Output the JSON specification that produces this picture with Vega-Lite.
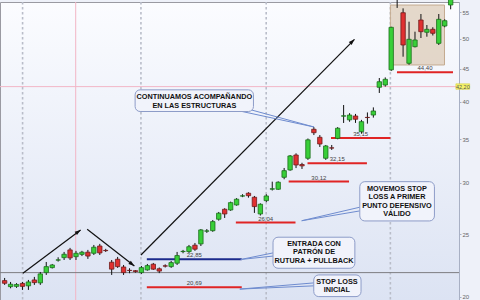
{
"$schema": "https://vega.github.io/schema/vega-lite/v6.json",
"width": 459, "height": 298,
"autosize": {"type": "none"},
"padding": {"left": 0, "top": 2, "right": 21, "bottom": 0},
"background": "#eef1f9",
"view": {"stroke": "#9a9aa2", "strokeWidth": 1, "fill": {"gradient": "linear", "x1": 0, "y1": 0, "x2": 0, "y2": 1, "stops": [{"offset": 0, "color": "#fbfcff"}, {"offset": 1, "color": "#dce3f3"}]}},
"config": {
  "axis": {"labelFont": "Liberation Sans", "labelFontSize": 6, "labelColor": "#666", "tickSize": 2, "tickColor": "#a8b0c4", "domainColor": "#a8b0c4", "labelPadding": 1, "grid": false},
  "text": {"font": "Liberation Sans"}
},
"resolve": {"axis": {"y": "independent", "x": "independent"}},
"datasets": {
  "candles": [
    {"i":1,"o":21.19,"h":21.39,"l":20.87,"c":20.99},
    {"i":2,"o":20.74,"h":21.09,"l":20.62,"c":20.92},
    {"i":3,"o":20.76,"h":21.00,"l":20.65,"c":20.90},
    {"i":4,"o":20.98,"h":21.09,"l":20.50,"c":20.76},
    {"i":5,"o":20.80,"h":21.24,"l":20.50,"c":21.09},
    {"i":6,"o":21.24,"h":21.47,"l":20.87,"c":21.04},
    {"i":7,"o":21.02,"h":21.85,"l":20.87,"c":21.70},
    {"i":8,"o":21.80,"h":22.64,"l":21.62,"c":22.27},
    {"i":9,"o":22.19,"h":22.48,"l":22.12,"c":22.40},
    {"i":10,"o":22.79,"h":23.02,"l":22.67,"c":22.81},
    {"i":11,"o":22.99,"h":23.46,"l":22.80,"c":23.27},
    {"i":12,"o":23.63,"h":23.80,"l":22.80,"c":22.97},
    {"i":13,"o":23.07,"h":23.55,"l":22.80,"c":23.35},
    {"i":14,"o":23.26,"h":23.55,"l":23.12,"c":23.44},
    {"i":15,"o":23.44,"h":23.63,"l":22.89,"c":23.12},
    {"i":16,"o":23.35,"h":24.05,"l":23.21,"c":23.86},
    {"i":17,"o":23.96,"h":24.14,"l":23.21,"c":23.38},
    {"i":18,"o":23.59,"h":23.72,"l":23.46,"c":23.57},
    {"i":19,"o":22.62,"h":22.80,"l":21.62,"c":22.07},
    {"i":20,"o":22.86,"h":23.05,"l":22.17,"c":22.27},
    {"i":21,"o":22.24,"h":22.40,"l":21.62,"c":21.80},
    {"i":22,"o":21.98,"h":22.14,"l":21.75,"c":21.96},
    {"i":23,"o":21.95,"h":22.00,"l":21.80,"c":21.88},
    {"i":24,"o":21.80,"h":22.32,"l":21.70,"c":22.19},
    {"i":25,"o":22.01,"h":22.48,"l":21.95,"c":22.35},
    {"i":26,"o":22.46,"h":22.56,"l":22.01,"c":22.07},
    {"i":27,"o":22.10,"h":22.20,"l":21.76,"c":21.92},
    {"i":28,"o":22.33,"h":22.45,"l":22.20,"c":22.31},
    {"i":29,"o":22.27,"h":22.72,"l":22.17,"c":22.59},
    {"i":30,"o":22.54,"h":23.46,"l":22.40,"c":23.16},
    {"i":31,"o":23.49,"h":23.63,"l":23.35,"c":23.51},
    {"i":32,"o":23.49,"h":24.05,"l":23.38,"c":23.90},
    {"i":33,"o":24.03,"h":24.22,"l":23.55,"c":23.69},
    {"i":34,"o":24.14,"h":25.45,"l":23.96,"c":25.37},
    {"i":35,"o":25.26,"h":25.45,"l":25.10,"c":25.28},
    {"i":36,"o":25.30,"h":26.28,"l":25.20,"c":26.13},
    {"i":37,"o":26.35,"h":27.04,"l":26.22,"c":26.92},
    {"i":38,"o":27.30,"h":27.40,"l":26.47,"c":26.85},
    {"i":39,"o":27.23,"h":28.05,"l":27.15,"c":27.95},
    {"i":40,"o":27.72,"h":28.40,"l":27.65,"c":28.29},
    {"i":41,"o":28.61,"h":28.80,"l":28.50,"c":28.63},
    {"i":42,"o":28.90,"h":29.00,"l":28.45,"c":28.65},
    {"i":43,"o":28.49,"h":28.62,"l":26.95,"c":27.56},
    {"i":44,"o":26.85,"h":27.88,"l":26.70,"c":27.79},
    {"i":45,"o":28.15,"h":28.80,"l":28.00,"c":28.62},
    {"i":46,"o":29.32,"h":30.11,"l":29.18,"c":29.36},
    {"i":47,"o":29.31,"h":30.15,"l":29.25,"c":30.05},
    {"i":48,"o":30.58,"h":31.61,"l":30.37,"c":31.31},
    {"i":49,"o":31.39,"h":33.10,"l":31.30,"c":32.99},
    {"i":50,"o":33.10,"h":33.30,"l":31.60,"c":31.95},
    {"i":51,"o":32.00,"h":32.20,"l":31.50,"c":31.85},
    {"i":52,"o":32.72,"h":35.10,"l":32.53,"c":34.93},
    {"i":53,"o":36.27,"h":36.53,"l":35.53,"c":35.83},
    {"i":54,"o":35.25,"h":35.53,"l":34.06,"c":34.42},
    {"i":55,"o":32.72,"h":34.30,"l":32.53,"c":34.18},
    {"i":56,"o":33.95,"h":34.30,"l":33.70,"c":33.93},
    {"i":57,"o":35.12,"h":36.55,"l":35.00,"c":36.40},
    {"i":58,"o":38.00,"h":39.53,"l":37.09,"c":38.04},
    {"i":59,"o":37.50,"h":38.40,"l":37.25,"c":38.15},
    {"i":60,"o":38.02,"h":38.30,"l":37.10,"c":37.58},
    {"i":61,"o":35.96,"h":37.50,"l":35.70,"c":37.26},
    {"i":62,"o":37.83,"h":38.50,"l":37.00,"c":37.81},
    {"i":63,"o":38.15,"h":39.20,"l":37.80,"c":38.70},
    {"i":64,"o":42.10,"h":43.51,"l":41.26,"c":42.94},
    {"i":65,"o":42.44,"h":43.60,"l":42.20,"c":43.31},
    {"i":66,"o":44.79,"h":52.20,"l":44.60,"c":52.09},
    {"i":67,"o":58.50,"h":59.00,"l":55.80,"c":58.00},
    {"i":68,"o":54.86,"h":55.72,"l":46.93,"c":48.92},
    {"i":69,"o":45.84,"h":53.14,"l":45.60,"c":49.92},
    {"i":70,"o":48.63,"h":51.29,"l":48.50,"c":49.80},
    {"i":71,"o":53.46,"h":54.61,"l":50.15,"c":51.29},
    {"i":72,"o":51.18,"h":52.52,"l":50.38,"c":51.72},
    {"i":73,"o":51.72,"h":52.10,"l":50.60,"c":51.00},
    {"i":74,"o":49.21,"h":54.61,"l":48.92,"c":53.59},
    {"i":75,"o":52.33,"h":53.60,"l":52.10,"c":53.33},
    {"i":76,"o":56.39,"h":58.00,"l":55.53,"c":57.80}
  ],
  "levels": [
    {"v":20.69,"x1":24.91,"x2":40.87,"lbl":"20,69","k":"stop"},
    {"v":22.85,"x1":24.91,"x2":40.87,"lbl":"22,85","k":"entry"},
    {"v":26.04,"x1":39.88,"x2":49.91,"lbl":"26,04","k":"stop"},
    {"v":30.12,"x1":48.76,"x2":58.91,"lbl":"30,12","k":"stop"},
    {"v":32.15,"x1":51.93,"x2":61.92,"lbl":"32,15","k":"stop"},
    {"v":35.15,"x1":55.88,"x2":65.86,"lbl":"35,15","k":"stop"},
    {"v":44.40,"x1":66.97,"x2":76.39,"lbl":"44,40","k":"stop"}
  ],
  "arrows": [
    {"a":1,"x1":4.07,"y1":21.75,"x2":13.78,"y2":25.37},
    {"a":2,"x1":14.88,"y1":25.43,"x2":22.82,"y2":22.32},
    {"a":3,"x1":23.92,"y1":23.21,"x2":59.83,"y2":49.92}
  ],
  "pointers": [
    {"x1":40.54,"y1":38.70,"x2":53.03,"y2":36.56},
    {"x1":42.51,"y1":38.84,"x2":53.03,"y2":36.56},
    {"x1":50.95,"y1":26.21,"x2":60.72,"y2":27.50},
    {"x1":50.95,"y1":26.21,"x2":60.72,"y2":27.14},
    {"x1":40.70,"y1":22.84,"x2":46.13,"y2":23.38},
    {"x1":40.70,"y1":22.84,"x2":46.13,"y2":23.12},
    {"x1":40.54,"y1":20.56,"x2":53.03,"y2":21.02},
    {"x1":40.54,"y1":20.56,"x2":53.03,"y2":20.80}
  ],
  "boxes": [
    {"x1":22.94,"x2":42.84,"y1":41.72,"y2":38.63},
    {"x1":60.72,"x2":73.27,"y1":30.11,"y2":26.19},
    {"x1":46.13,"x2":59.89,"y1":24.72,"y2":22.14},
    {"x1":52.98,"x2":60.93,"y1":21.62,"y2":20.02}
  ],
  "notes": [
    {"t":"CONTINUAMOS ACOMPAÑANDO","x":32.9,"y":40.67},
    {"t":"EN LAS ESTRUCTURAS","x":32.9,"y":39.40},
    {"t":"MOVEMOS STOP","x":66.97,"y":29.34},
    {"t":"LOSS A PRIMER","x":66.97,"y":28.49},
    {"t":"PUNTO DEFENSIVO","x":66.97,"y":27.62},
    {"t":"VÁLIDO","x":66.97,"y":26.82},
    {"t":"ENTRADA CON","x":53.03,"y":24.16},
    {"t":"PATRÓN DE","x":53.03,"y":23.44},
    {"t":"RUTURA + PULLBACK","x":53.03,"y":22.72},
    {"t":"STOP LOSS","x":56.87,"y":21.11},
    {"t":"INICIAL","x":56.87,"y":20.50}
  ]
},
"layer": [
  {
    "data": {"name": "candles"},
    "mark": {"type": "rule", "opacity": 0},
    "encoding": {
      "x": {"field": "i", "type": "quantitative", "scale": {"domain": [1.0625, 76.56], "nice": false, "zero": false}, "axis": null},
      "y": {"field": "l", "type": "quantitative", "scale": {"type": "log", "domain": [19.78, 56.99], "nice": false, "zero": false}, "axis": {"orient": "right", "values": [20,25,30,35,40,45,50,55], "format": "d", "title": null}}
    }
  },
  {
    "data": {"values": [{"i":4.02},{"i":23.92},{"i":44.98},{"i":65.86}]},
    "mark": {"type": "rule", "color": "#b9bdc9", "strokeWidth": 1.6, "strokeDash": [2.5, 2.5]},
    "encoding": {"x": {"field": "i", "type": "quantitative", "axis": null}}
  },
  {
    "data": {"values": [{"i":12.95}]},
    "mark": {"type": "rule", "color": "#f2b6c6", "strokeWidth": 1},
    "encoding": {"x": {"field": "i", "type": "quantitative", "axis": null}}
  },
  {
    "data": {"values": [{"v":42.2}]},
    "mark": {"type": "rule", "color": "#f2b6c6", "strokeWidth": 1},
    "encoding": {"y": {"field": "v", "type": "quantitative", "axis": null}}
  },
  {
    "data": {"values": [{"v":21.8}]},
    "mark": {"type": "rule", "color": "#7d7d82", "strokeWidth": 1},
    "encoding": {"y": {"field": "v", "type": "quantitative", "axis": null}}
  },
  {
    "data": {"values": [{"x1":65.86,"x2":74.96,"y1":56.38,"y2":45.57}]},
    "mark": {"type": "rect", "fill": "#d8c5ae", "fillOpacity": 0.65, "stroke": "#c4ab90", "strokeWidth": 1},
    "encoding": {
      "x": {"field": "x1", "type": "quantitative", "axis": null}, "x2": {"field": "x2"},
      "y": {"field": "y1", "type": "quantitative", "axis": null}, "y2": {"field": "y2"}
    }
  },
  {
    "data": {"name": "levels"},
    "mark": {"type": "rule", "strokeWidth": 2},
    "encoding": {
      "x": {"field": "x1", "type": "quantitative", "axis": null}, "x2": {"field": "x2"},
      "y": {"field": "v", "type": "quantitative", "axis": null},
      "color": {"condition": {"test": "datum.k == 'entry'", "value": "#1b2a8c"}, "value": "#e02424"}
    }
  },
  {
    "data": {"name": "levels"},
    "transform": [{"calculate": "(datum.x1 + datum.x2) / 2", "as": "mid"}],
    "mark": {"type": "text", "fontSize": 6, "color": "#444", "baseline": "bottom", "dy": -1},
    "encoding": {
      "x": {"field": "mid", "type": "quantitative", "axis": null},
      "y": {"field": "v", "type": "quantitative", "axis": null},
      "text": {"field": "lbl"}
    }
  },
  {
    "data": {"name": "arrows"},
    "mark": {"type": "rule", "color": "#111", "strokeWidth": 1.2},
    "encoding": {
      "x": {"field": "x1", "type": "quantitative", "axis": null}, "x2": {"field": "x2"},
      "y": {"field": "y1", "type": "quantitative", "axis": null}, "y2": {"field": "y2"}
    }
  },
  {
    "data": {"name": "arrows"}, "transform": [{"filter": "datum.a == 1"}],
    "mark": {"type": "point", "shape": "M0,0L1,3L-1,3Z", "size": 16, "filled": true, "opacity": 1, "color": "#111", "angle": 53.7},
    "encoding": {"x": {"field": "x2", "type": "quantitative", "axis": null}, "y": {"field": "y2", "type": "quantitative", "axis": null}}
  },
  {
    "data": {"name": "arrows"}, "transform": [{"filter": "datum.a == 2"}],
    "mark": {"type": "point", "shape": "M0,0L1,3L-1,3Z", "size": 16, "filled": true, "opacity": 1, "color": "#111", "angle": 127.2},
    "encoding": {"x": {"field": "x2", "type": "quantitative", "axis": null}, "y": {"field": "y2", "type": "quantitative", "axis": null}}
  },
  {
    "data": {"name": "arrows"}, "transform": [{"filter": "datum.a == 3"}],
    "mark": {"type": "point", "shape": "M0,0L1,3L-1,3Z", "size": 16, "filled": true, "opacity": 1, "color": "#111", "angle": 45.3},
    "encoding": {"x": {"field": "x2", "type": "quantitative", "axis": null}, "y": {"field": "y2", "type": "quantitative", "axis": null}}
  },
  {
    "data": {"name": "pointers"},
    "mark": {"type": "rule", "color": "#6f8ccf", "strokeWidth": 1},
    "encoding": {
      "x": {"field": "x1", "type": "quantitative", "axis": null}, "x2": {"field": "x2"},
      "y": {"field": "y1", "type": "quantitative", "axis": null}, "y2": {"field": "y2"}
    }
  },
  {
    "data": {"name": "boxes"},
    "mark": {"type": "rect", "fill": "#f1f3fb", "stroke": "#8d9cc8", "strokeWidth": 1, "cornerRadius": 5},
    "encoding": {
      "x": {"field": "x1", "type": "quantitative", "axis": null}, "x2": {"field": "x2"},
      "y": {"field": "y1", "type": "quantitative", "axis": null}, "y2": {"field": "y2"}
    }
  },
  {
    "data": {"name": "notes"},
    "mark": {"type": "text", "fontSize": 7.3, "fontWeight": "bold", "color": "#111", "align": "center", "baseline": "middle"},
    "encoding": {
      "x": {"field": "x", "type": "quantitative", "axis": null},
      "y": {"field": "y", "type": "quantitative", "axis": null},
      "text": {"field": "t"}
    }
  },
  {
    "data": {"name": "candles"},
    "mark": {"type": "rule", "color": "#111", "strokeWidth": 1},
    "encoding": {
      "x": {"field": "i", "type": "quantitative", "axis": null},
      "y": {"field": "l", "type": "quantitative", "axis": null}, "y2": {"field": "h"}
    }
  },
  {
    "data": {"name": "candles"},
    "mark": {"type": "bar", "size": 4.4, "strokeWidth": 0.8},
    "encoding": {
      "x": {"field": "i", "type": "quantitative", "axis": null},
      "y": {"field": "o", "type": "quantitative", "axis": null}, "y2": {"field": "c"},
      "fill": {"condition": {"test": "datum.c >= datum.o", "value": "#38cf38"}, "value": "#e03030"},
      "stroke": {"condition": {"test": "datum.c >= datum.o", "value": "#1c6e1c"}, "value": "#6e1c1c"}
    }
  },
  {
    "data": {"values": [{"x1":76.88,"x2":79.19,"y1":42.62,"y2":41.80}]},
    "mark": {"type": "rect", "fill": "#f6f46a", "stroke": "#d2cf3c", "strokeWidth": 0.6},
    "encoding": {
      "x": {"field": "x1", "type": "quantitative", "axis": null}, "x2": {"field": "x2"},
      "y": {"field": "y1", "type": "quantitative", "axis": null}, "y2": {"field": "y2"}
    }
  },
  {
    "data": {"values": [{"x":78.04,"v":42.2,"t":"42,20"}]},
    "mark": {"type": "text", "fontSize": 5.5, "color": "#555", "align": "center", "baseline": "middle"},
    "encoding": {
      "x": {"field": "x", "type": "quantitative", "axis": null},
      "y": {"field": "v", "type": "quantitative", "axis": null},
      "text": {"field": "t"}
    }
  }
]
}
